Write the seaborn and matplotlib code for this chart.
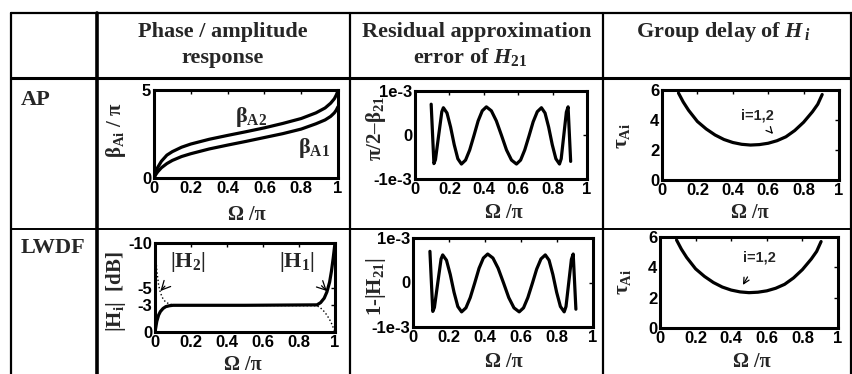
import matplotlib
matplotlib.use("Agg")
import matplotlib.pyplot as plt
from matplotlib.lines import Line2D
import seaborn as sns

W, H = 853, 374

# ---------------- data ----------------
omega_ticks = [0, 0.2, 0.4, 0.6, 0.8, 1]
omega_tick_labels = ["0", "0.2", "0.4", "0.6", "0.8", "1"]

# phase of the two allpass branches, beta / pi
omega_beta = [0.0, 0.01, 0.02, 0.04, 0.07, 0.1, 0.15, 0.2, 0.3, 0.4, 0.5,
              0.6, 0.7, 0.8, 0.88, 0.93, 0.96, 0.98, 0.99, 1.0]
beta_a1 = [0.0, 0.2, 0.35, 0.58, 0.82, 1.0, 1.22, 1.38, 1.65, 1.87, 2.08,
           2.3, 2.52, 2.78, 3.08, 3.3, 3.5, 3.7, 3.85, 4.05]
beta_a2 = [0.0, 0.35, 0.6, 0.95, 1.3, 1.5, 1.75, 1.93, 2.2, 2.42, 2.63,
           2.85, 3.1, 3.38, 3.7, 3.98, 4.25, 4.5, 4.7, 4.95]

# residual approximation error, in units of 1e-3
omega_err = [0.094, 0.102, 0.110, 0.119, 0.1375, 0.156, 0.165, 0.186, 0.207,
             0.228, 0.249, 0.270, 0.294, 0.318, 0.343, 0.367, 0.391, 0.415,
             0.444, 0.473, 0.503, 0.532, 0.561, 0.590, 0.614, 0.638, 0.663,
             0.687, 0.711, 0.735, 0.756, 0.777, 0.798, 0.819, 0.840, 0.850,
             0.865, 0.880, 0.890, 0.8975, 0.905]
err_h21 = [0.70, 0.02, -0.65, -0.56, -0.01, 0.53, 0.62, 0.50, 0.18, -0.22,
           -0.54, -0.66, -0.57, -0.34, -0.01, 0.32, 0.55, 0.64, 0.55, 0.32,
           -0.01, -0.34, -0.57, -0.66, -0.57, -0.34, -0.02, 0.30, 0.53, 0.62,
           0.50, 0.18, -0.22, -0.54, -0.66, -0.54, -0.01, 0.52, 0.64, 0.02,
           -0.60]
err_ticks = [-1, 0, 1]
err_tick_labels = ["-1e-3", "0", "1e-3"]

# magnitude responses of the LWDF branches in dB
omega_mag = [0.0, 0.005, 0.01, 0.02, 0.03, 0.045, 0.06, 0.08, 0.1, 0.5,
             0.9, 0.92, 0.94, 0.955, 0.97, 0.98, 0.99, 1.0]
mag_h1 = [0.0, -0.6, -1.2, -1.9, -2.3, -2.65, -2.85, -2.95, -3.0, -3.0,
          -3.05, -3.3, -3.8, -4.5, -5.6, -6.8, -8.3, -10.0]
mag_h2 = [-10.0, -8.3, -6.9, -5.3, -4.4, -3.7, -3.35, -3.15, -3.05, -3.0,
          -2.95, -2.7, -2.3, -1.9, -1.4, -1.0, -0.5, 0.0]
mag_ticks = [-10, -5, -3, 0]
mag_tick_labels = ["-10", "-5", "-3", "0"]

# group delay
omega_tau = [0.093, 0.12, 0.15, 0.2, 0.25, 0.3, 0.35, 0.4, 0.45, 0.5, 0.55,
             0.6, 0.65, 0.7, 0.75, 0.8, 0.85, 0.88, 0.905]
tau_ai = [5.8, 5.2, 4.65, 3.9, 3.4, 3.0, 2.7, 2.5, 2.38, 2.33, 2.36, 2.45,
          2.62, 2.88, 3.3, 3.85, 4.55, 5.05, 5.7]
tau_ticks = [0, 2, 4, 6]

# ---------------- style ----------------
sns.set_style("white")
plt.rcParams.update({
    "font.family": ["Liberation Sans", "DejaVu Sans"],
    "font.weight": "bold",
    "mathtext.fontset": "custom",
    "mathtext.rm": "Liberation Serif:bold",
    "mathtext.it": "Liberation Serif:italic:bold",
    "mathtext.bf": "Liberation Serif:bold",
    "axes.edgecolor": "black",
    "axes.linewidth": 2.2,
    "xtick.direction": "in",
    "ytick.direction": "in",
})

SERIF = ["Liberation Serif", "DejaVu Serif"]
LINE_KW = dict(color="black", linewidth=2.3, estimator=None, sort=False)

fig = plt.figure(figsize=(W / 100, H / 100), dpi=100)
fig.patch.set_facecolor("white")


def P(x, y):
    return (x / W, 1 - y / H)


def box(l, t, r, b):
    return fig.add_axes([l / W, 1 - b / H, (r - l) / W, (b - t) / H])


def hline(y, x0, x1, lw):
    (a, b), (c, d) = P(x0, y), P(x1, y)
    fig.add_artist(Line2D([a, c], [b, d], transform=fig.transFigure,
                          color="black", linewidth=lw))


def vline(x, y0, y1, lw):
    (a, b), (c, d) = P(x, y0), P(x, y1)
    fig.add_artist(Line2D([a, c], [b, d], transform=fig.transFigure,
                          color="black", linewidth=lw))


def style_axes(ax, xlab_xy, ylab, ylab_xy):
    ax.set_xlim(0, 1)
    ax.set_xticks(omega_ticks)
    ax.set_xticklabels(omega_tick_labels)
    ax.tick_params(axis="both", which="both", direction="in", length=3,
                   width=1, top=True, right=True, pad=2, labelsize=12,
                   colors="black")
    for lbl in ax.get_xticklabels() + ax.get_yticklabels():
        lbl.set_fontweight("bold")
    for sp in ax.spines.values():
        sp.set_linewidth(2.2)
        sp.set_color("black")
    ax.set_xlabel("Ω /π", fontsize=14.5, fontweight="bold", family=SERIF)
    ax.xaxis.set_label_coords(*P(*xlab_xy), transform=fig.transFigure)
    ax.xaxis.label.set_va("center")
    ax.set_ylabel(ylab, fontsize=15, fontweight="bold", family=SERIF)
    ax.yaxis.set_label_coords(*P(*ylab_xy), transform=fig.transFigure)
    ax.yaxis.label.set_va("center")


# ---------------- table grid ----------------
hline(13, 11, 852, 1.6)
hline(78, 11, 852, 2.2)
hline(229, 11, 852, 1.4)
vline(11, 13, 374, 1.6)
vline(97, 13, 374, 2.6)
vline(350, 13, 374, 1.6)
vline(603, 13, 374, 1.6)
vline(851, 13, 374, 1.6)

head_kw = dict(fontsize=16, fontweight="bold", family=SERIF,
               ha="center", va="baseline")
fig.text(*P(223, 37), "Phase / amplitude", **head_kw)
fig.text(*P(223, 63), "response", **head_kw)
fig.text(*P(477, 37), "Residual approximation", **head_kw)
fig.text(*P(470, 63), r"error of $H_{21}$", **head_kw)
fig.text(*P(723, 37), r"Group delay of $H_{\,i}$", **head_kw)

row_kw = dict(fontsize=16, fontweight="bold", family=SERIF,
              ha="left", va="baseline")
fig.text(*P(21, 105), "AP", **row_kw)
fig.text(*P(21, 253), "LWDF", **row_kw)

# ---------------- AP row ----------------
ax = box(154, 90, 338, 178)
sns.lineplot(x=omega_beta, y=beta_a1, ax=ax, **LINE_KW)
sns.lineplot(x=omega_beta, y=beta_a2, ax=ax, **LINE_KW)
ax.set_ylim(0, 5)
ax.set_yticks([0, 5])
ax.set_yticklabels(["0", "5"])
ax.text(0.53, 3.45, r"β$_{\mathrm{A2}}$", fontsize=16, fontweight="bold",
        family=SERIF, ha="center", va="center")
ax.text(0.87, 1.7, r"β$_{\mathrm{A1}}$", fontsize=16, fontweight="bold",
        family=SERIF, ha="center", va="center")
style_axes(ax, (247, 215), r"β$_{\mathrm{Ai}}$ / π", (116, 130))

ax = box(415, 91, 587, 179)
sns.lineplot(x=omega_err, y=err_h21, ax=ax, **LINE_KW)
ax.set_ylim(-1, 1)
ax.set_yticks(err_ticks)
ax.set_yticklabels(err_tick_labels)
style_axes(ax, (504, 213), r"π/2–β$_{\mathrm{21}}$", (376, 128))

ax = box(662, 90, 839, 180)
sns.lineplot(x=omega_tau, y=tau_ai, ax=ax, **LINE_KW)
ax.set_ylim(0, 6)
ax.set_yticks(tau_ticks)
ax.set_yticklabels([str(t) for t in tau_ticks])
ax.annotate("i=1,2", xy=(0.627, 3.07), xytext=(0.537, 4.27),
            fontsize=10.5, fontweight="bold", ha="center", va="center",
            arrowprops=dict(arrowstyle="->", lw=0.9, color="black",
                            shrinkA=6, shrinkB=0))
style_axes(ax, (750, 213), r"τ$_{\mathrm{Ai}}$", (622, 136))

# ---------------- LWDF row ----------------
ax = box(155, 243, 335, 332)
sns.lineplot(x=omega_mag, y=mag_h2, ax=ax, color="black", linewidth=1.0,
             linestyle=":", estimator=None, sort=False)
sns.lineplot(x=omega_mag, y=mag_h1, ax=ax, **LINE_KW)
ax.set_ylim(0, -10)
ax.set_yticks(mag_ticks)
ax.set_yticklabels(mag_tick_labels)
ax.annotate(r"|H$_{\mathrm{2}}$|", xy=(0.03, -4.6), xytext=(0.18, -7.9),
            fontsize=16, fontweight="bold", family=SERIF,
            ha="center", va="center",
            arrowprops=dict(arrowstyle="->", lw=0.9, color="black",
                            shrinkA=9, shrinkB=0))
ax.annotate(r"|H$_{\mathrm{1}}$|", xy=(0.955, -4.6), xytext=(0.79, -7.9),
            fontsize=16, fontweight="bold", family=SERIF,
            ha="center", va="center",
            arrowprops=dict(arrowstyle="->", lw=0.9, color="black",
                            shrinkA=9, shrinkB=0))
style_axes(ax, (243, 365), r"|H$_{\mathrm{i}}$|  [dB]", (116, 292))

ax = box(413, 238, 593, 327)
sns.lineplot(x=omega_err, y=err_h21, ax=ax, **LINE_KW)
ax.set_ylim(-1, 1)
ax.set_yticks(err_ticks)
ax.set_yticklabels(err_tick_labels)
style_axes(ax, (504, 362), r"1-|H$_{\mathrm{21}}$|", (376, 287))

ax = box(660, 237, 838, 328)
sns.lineplot(x=omega_tau, y=tau_ai, ax=ax, **LINE_KW)
ax.set_ylim(0, 6)
ax.set_yticks(tau_ticks)
ax.set_yticklabels([str(t) for t in tau_ticks])
ax.annotate("i=1,2", xy=(0.466, 2.84), xytext=(0.556, 4.68),
            fontsize=10.5, fontweight="bold", ha="center", va="center",
            arrowprops=dict(arrowstyle="->", lw=0.9, color="black",
                            shrinkA=8, shrinkB=0))
style_axes(ax, (752, 362), r"τ$_{\mathrm{Ai}}$", (623, 282))

fig.savefig("out.png", dpi=100, facecolor="white")
